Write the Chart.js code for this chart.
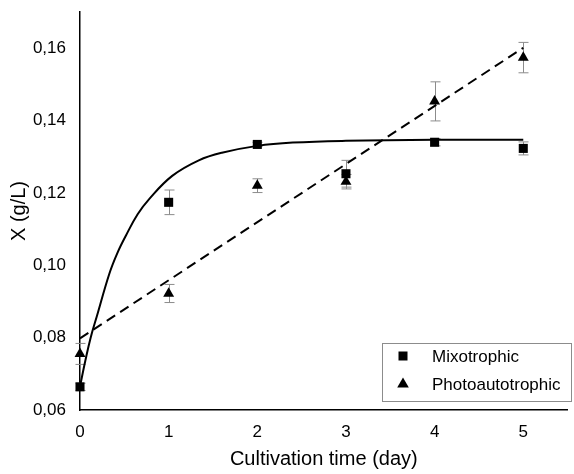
<!DOCTYPE html>
<html><head><meta charset="utf-8">
<script src="https://cdn.jsdelivr.net/npm/chart.js@4"></script>
<style>html,body{margin:0;padding:0;background:#fff}#wrap{width:574px;height:474px}</style>
</head><body><div id="wrap"><canvas id="c" width="574" height="474"></canvas></div>
<script>
const days = [0, 1, 2, 3, 4, 5];
const mixotrophic = [0.0664, 0.1174, 0.1334, 0.1253, 0.1340, 0.1323];
const mixotrophicErr = [0.0010, 0.0034, 0.0006, 0.0037, 0.0010, 0.0018];
const photoautotrophic = [0.0755, 0.0922, 0.1220, 0.1231, 0.1453, 0.1574];
const photoautotrophicErr = [0.0029, 0.0025, 0.0019, 0.0020, 0.0054, 0.0042];
// fitted curves
const mixoFitX = [0, 0.06, 0.12, 0.19, 0.33, 0.42, 0.52, 0.65, 0.78, 1.04, 1.34, 1.6, 2.0, 2.4, 3.0, 4.0, 5.0];
const mixoFitY = [0.0665, 0.0736, 0.0800, 0.0859, 0.0976, 0.1033, 0.1083, 0.1141, 0.1183, 0.1247, 0.1290, 0.1311, 0.1330, 0.1339, 0.1344, 0.1347, 0.1347];
const photoFitX = [0, 5];
const photoFitY = [0.0798, 0.1601];
const xTicks = [0, 1, 2, 3, 4, 5];
const yTicks = [0.06, 0.08, 0.10, 0.12, 0.14, 0.16];
const seriesNames = ['Mixotrophic', 'Photoautotrophic'];

const FONT = "'Liberation Sans', Arial, sans-serif";
const pts = (xs, ys) => xs.map((x, i) => ({x: x, y: ys[i]}));

const errorBars = {
  id: 'errorBars',
  beforeDatasetsDraw(chart) {
    const ctx = chart.ctx, xs = chart.scales.x, ys = chart.scales.y;
    ctx.save();
    ctx.strokeStyle = '#8c8c8c';
    ctx.lineWidth = 1;
    [[mixotrophic, mixotrophicErr], [photoautotrophic, photoautotrophicErr]].forEach(([vals, errs]) => {
      vals.forEach((v, i) => {
        const px = Math.round(xs.getPixelForValue(days[i])) + 0.5;
        const t = ys.getPixelForValue(v + errs[i]);
        const b = ys.getPixelForValue(v - errs[i]);
        ctx.beginPath();
        ctx.moveTo(px, t); ctx.lineTo(px, b);
        ctx.moveTo(px - 5, t); ctx.lineTo(px + 5, t);
        ctx.moveTo(px - 5, b); ctx.lineTo(px + 5, b);
        ctx.stroke();
      });
    });
    ctx.restore();
  }
};

const boxLegend = {
  id: 'boxLegend',
  afterDraw(chart) {
    const ctx = chart.ctx;
    const L = 382, T = 343, W = 189, H = 58;
    ctx.save();
    ctx.fillStyle = '#fff';
    ctx.fillRect(L, T, W, H);
    ctx.strokeStyle = '#8c8c8c';
    ctx.lineWidth = 1;
    ctx.strokeRect(L + 0.5, T + 0.5, W, H);
    ctx.font = '17px ' + FONT;
    ctx.textBaseline = 'middle';
    ctx.fillStyle = '#000';
    const rows = [T + 13, T + 41];
    ctx.fillRect(403 - 4.5, rows[0] - 4.5, 9, 9);
    ctx.beginPath();
    ctx.moveTo(403, rows[1] - 6.5);
    ctx.lineTo(403 + 5.8, rows[1] + 3.5);
    ctx.lineTo(403 - 5.8, rows[1] + 3.5);
    ctx.closePath();
    ctx.fill();
    ctx.fillText(seriesNames[0], 432, rows[0] + 1);
    ctx.fillText(seriesNames[1], 432, rows[1] + 1);
    ctx.restore();
  }
};

new Chart(document.getElementById('c'), {
  type: 'scatter',
  data: {
    datasets: [
      {label: seriesNames[0] + ' fit', data: pts(mixoFitX, mixoFitY), showLine: true, borderColor: '#000', borderWidth: 2, pointRadius: 0, tension: 0.4, fill: false, clip: false, order: 3},
      {label: seriesNames[1] + ' fit', data: pts(photoFitX, photoFitY), showLine: true, borderColor: '#000', borderWidth: 2, borderDash: [10, 6], pointRadius: 0, fill: false, clip: false, order: 3},
      {label: seriesNames[0], data: pts(days, mixotrophic), pointStyle: 'rect', pointRadius: 6.4, backgroundColor: '#000', borderColor: '#000', borderWidth: 0, clip: false, order: 1},
      {label: seriesNames[1], data: pts(days, photoautotrophic), pointStyle: 'triangle', pointRadius: 6.3, backgroundColor: '#000', borderColor: '#000', borderWidth: 0, clip: false, order: 2}
    ]
  },
  options: {
    responsive: false,
    animation: false,
    devicePixelRatio: 1,
    layout: {padding: {top: 12, right: 0, left: 0, bottom: 0}},
    plugins: {legend: {display: false}, tooltip: {enabled: false}},
    scales: {
      x: {
        type: 'linear', min: 0, max: 5.5,
        afterBuildTicks: s => { s.ticks = xTicks.map(v => ({value: v})); },
        afterFit: s => { s.height = 64; s.paddingLeft = 0; s.paddingRight = 0; },
        grid: {display: false, drawTicks: false},
        border: {display: true, color: '#000', width: 1.5},
        ticks: {color: '#000', font: {family: FONT, size: 17}, padding: 12, maxRotation: 0, callback: v => String(v)},
        title: {display: true, text: 'Cultivation time (day)', color: '#000', font: {family: FONT, size: 20}, padding: {top: 0, bottom: 3}}
      },
      y: {
        type: 'linear', min: 0.06, max: 0.17,
        afterBuildTicks: s => { s.ticks = yTicks.map(v => ({value: v})); },
        afterFit: s => { s.width = 80; s.paddingTop = 0; s.paddingBottom = 0; },
        grid: {display: false, drawTicks: false},
        border: {display: true, color: '#000', width: 1.5},
        ticks: {color: '#000', font: {family: FONT, size: 17}, padding: 14, callback: v => v.toFixed(2).replace('.', ',')},
        title: {display: true, text: 'X (g/L)', color: '#000', font: {family: FONT, size: 20}, padding: {top: 7, bottom: 0}}
      }
    }
  },
  plugins: [errorBars, boxLegend]
});
</script></body></html>
